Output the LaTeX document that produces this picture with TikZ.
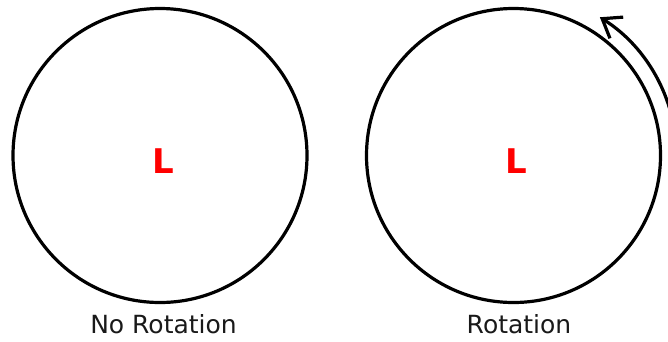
\documentclass[tikz,border=0pt]{standalone}
\usepackage{fontspec}
\setmainfont{DejaVu Sans}
\usetikzlibrary{arrows.meta}
\begin{document}
\begin{tikzpicture}[x=1pt,y=-1pt,
  wheel/.style={circle, draw=black, line width=3.2pt, inner sep=0pt, minimum size=294pt},
  letter/.style={text=red, font=\fontsize{34}{34}\selectfont\bfseries},
  caption/.style={anchor=base, font=\fontsize{25}{25}\selectfont, text=black!90},
  spin/.style={line width=3.2pt, -{Straight Barb[length=17pt,width=25pt,line width=3.2pt]}}]
\useasboundingbox (0,0) rectangle (668,341);
\clip (0,0) rectangle (668,341);
\fill[white] (0,0) rectangle (668,341);
\node[wheel] (c1) at (160,155.5) {};
\node[wheel] (c2) at (513.5,155.5) {};
\node[letter] (l1) at (163,161) {L};
\node[letter] (l2) at (516,161) {L};
\node[caption] (t1) at (163.5,333) {No Rotation};
\node[caption] (t2) at (519,333) {Rotation};
\coordinate (arcstart) at ([shift={(5:163pt)}]c2.center);
\draw[spin] (arcstart) arc[start angle=5, end angle=58, radius=163pt];
\end{tikzpicture}
\end{document}
